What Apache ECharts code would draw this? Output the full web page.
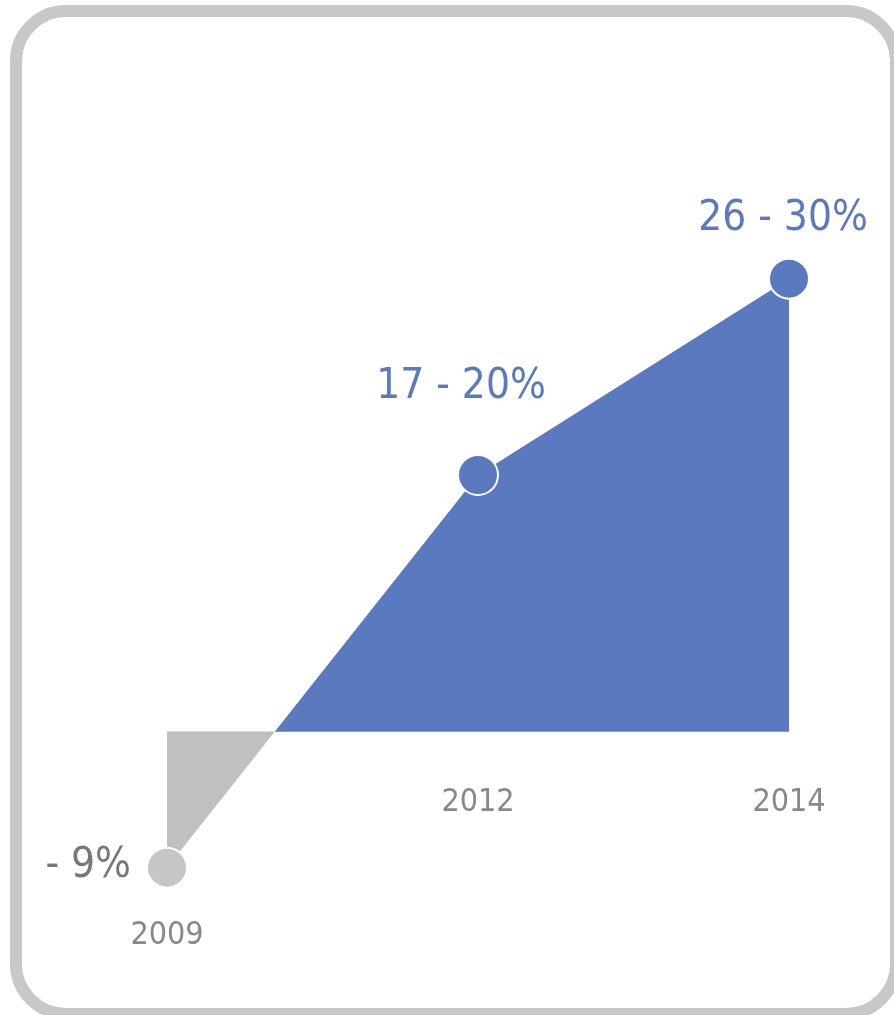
<!DOCTYPE html>
<html>
<head>
<meta charset="utf-8">
<title>Growth 2009–2014</title>
<script src="https://cdn.jsdelivr.net/npm/echarts@6/dist/echarts.min.js"></script>
<style>
  html, body { margin: 0; padding: 0; background: #ffffff; }
  #chart { width: 894px; height: 1015px; }
</style>
</head>
<body>
<div id="chart"></div>
<script>
// Years shown on the chart
const years = ['2009', '2012', '2014'];
// Point plotted for each year (%), taken within the stated range
const shareValue = [-9, 17, 30];
// Range printed next to each point (%); a null high end means a single figure
const rangeLow = [-9, 17, 26];
const rangeHigh = [null, 20, 30];

const BLUE = '#5b79bf';
const GREY_FILL = '#c0c0c0';
const GREY_DOT = '#c6c6c6';
const GREY_TEXT = '#777777';
const YEAR_TEXT = '#6a6a6a';
const FONT = "'Liberation Sans Narrow', 'DejaVu Sans Condensed', 'Noto Sans', sans-serif";

function rangeText(i) {
  const lo = rangeLow[i], hi = rangeHigh[i];
  if (hi === null) {
    return (lo < 0 ? '- ' + Math.abs(lo) : String(lo)) + '%';
  }
  return lo + ' - ' + hi + '%';
}

// Fill is grey below zero and blue above it; the split sits where zero
// falls inside the vertical span of the filled shape.
const spanTop = Math.max(0, ...shareValue);
const spanBottom = Math.min(0, ...shareValue);
const zeroAt = spanTop / (spanTop - spanBottom);
const splitFill = new echarts.graphic.LinearGradient(0, 0, 0, 1, [
  { offset: 0, color: BLUE },
  { offset: zeroAt, color: BLUE },
  { offset: zeroAt, color: GREY_FILL },
  { offset: 1, color: GREY_FILL }
]);

// Value label placement relative to its point, per year
const valueLabelOffset = [[-36, -2], [-17, -88], [-6, -60]];
const valueLabelAlign = ['right', 'center', 'center'];

const lineData = shareValue.map((v, i) => ({
  value: v,
  itemStyle: { color: v < 0 ? GREY_DOT : BLUE },
  label: {
    show: true,
    position: 'inside',
    offset: valueLabelOffset[i],
    formatter: rangeText(i),
    color: v < 0 ? GREY_TEXT : BLUE,
    fontSize: 42,
    fontFamily: FONT,
    align: valueLabelAlign[i],
    verticalAlign: 'middle'
  }
}));

// Year captions sit below the baseline, or below the point when it is negative
const yearData = years.map((y, i) => ({
  value: [i, Math.min(shareValue[i], 0)],
  label: {
    show: true,
    position: 'inside',
    offset: [0, shareValue[i] < 0 ? 68 : 71],
    formatter: y,
    color: YEAR_TEXT,
    fontSize: 32,
    fontFamily: FONT,
    align: 'center',
    verticalAlign: 'middle'
  }
}));

const chart = echarts.init(document.getElementById('chart'), null, { renderer: 'canvas' });

chart.setOption({
  backgroundColor: '#ffffff',
  animation: false,
  graphic: [{
    type: 'rect',
    silent: true,
    z: 0,
    shape: { x: 16, y: 11, width: 880, height: 1003, r: 50 },
    style: { fill: '#ffffff', stroke: '#c8c8c8', lineWidth: 12 }
  }],
  grid: {
    left: 167,
    right: 105,
    top: 188,
    height: 725
  },
  xAxis: {
    type: 'category',
    data: years,
    boundaryGap: false,
    show: false
  },
  yAxis: {
    type: 'value',
    min: -12,
    max: 36,
    show: false
  },
  series: [
    {
      type: 'line',
      data: lineData,
      symbol: 'circle',
      symbolSize: 40,
      showAllSymbol: true,
      lineStyle: { width: 0 },
      itemStyle: { borderColor: '#ffffff', borderWidth: 2 },
      areaStyle: { opacity: 1, color: splitFill },
      z: 3
    },
    {
      type: 'scatter',
      data: yearData,
      symbolSize: 0,
      silent: true,
      z: 4
    }
  ]
});
</script>
</body>
</html>
